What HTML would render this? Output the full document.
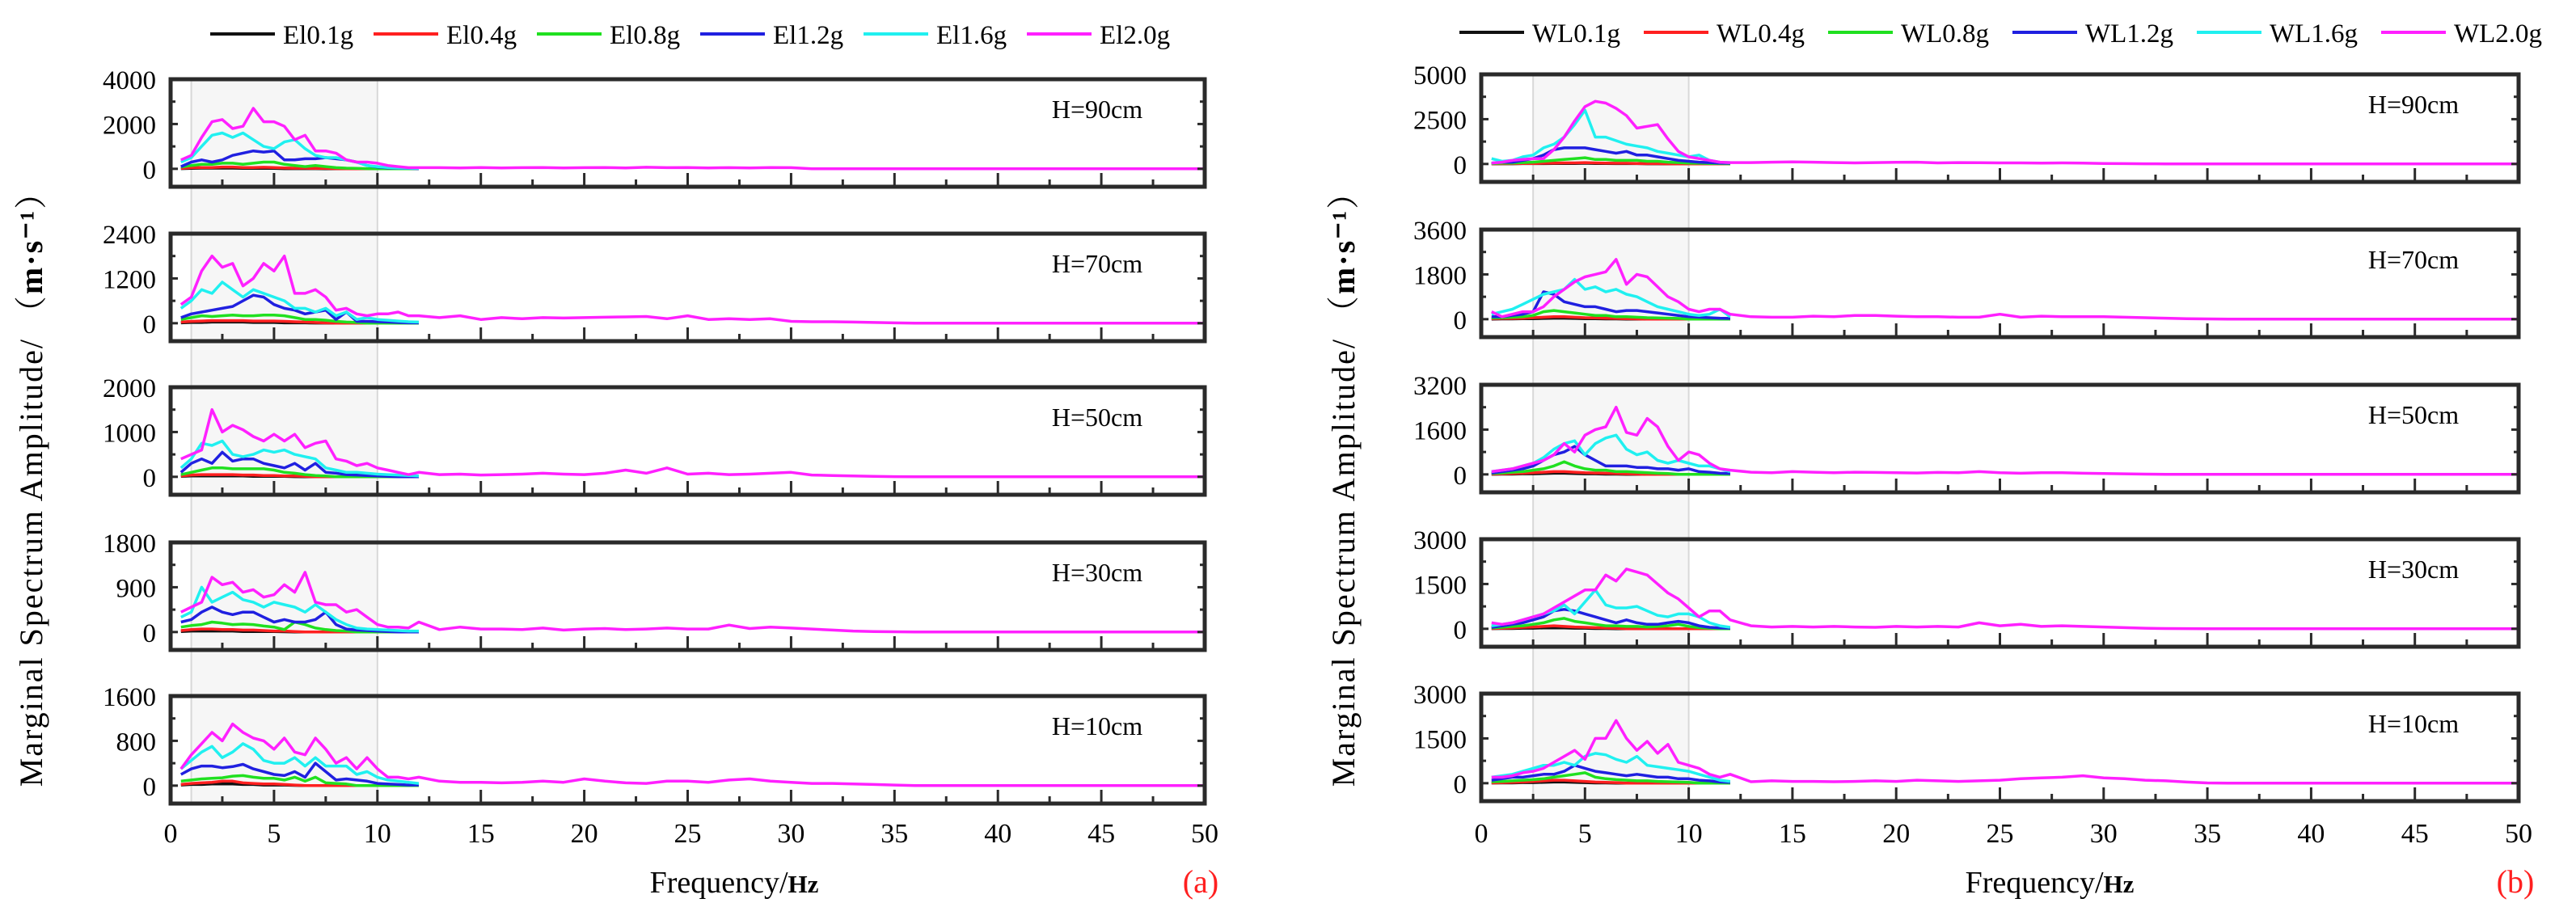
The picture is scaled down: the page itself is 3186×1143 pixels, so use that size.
<!DOCTYPE html>
<html><head><meta charset="utf-8">
<style>
html,body{margin:0;padding:0;background:#fff;}
svg{display:block;font-family:"Liberation Serif","Noto Serif CJK SC",serif;}
</style></head>
<body>
<svg id="chart" width="3186" height="1143" viewBox="0 0 3186 1143" xmlns="http://www.w3.org/2000/svg"></svg>
<script>
// ---- data ----
const freqs = [0.5,1,1.5,2,2.5,3,3.5,4,4.5,5,5.5,6,6.5,7,7.5,8,8.5,9,9.5,10,10.5,11,11.5,12,
  13,14,15,16,17,18,19,20,21,22,23,24,25,26,27,28,29,30,31,32,33,34,35,36,50];
const xTicks = [0,5,10,15,20,25,30,35,40,45,50];
const seriesColors = ["#111111","#ff2020","#20e020","#2020e0","#20f0f0","#ff20ff"];
const leftNames = ["El0.1g","El0.4g","El0.8g","El1.2g","El1.6g","El2.0g"];
const rightNames = ["WL0.1g","WL0.4g","WL0.8g","WL1.2g","WL1.6g","WL2.0g"];
const heights = ["H=90cm","H=70cm","H=50cm","H=30cm","H=10cm"];
const leftMax = [4000,2400,2000,1800,1600];
const rightMax = [5000,3600,3200,3000,3000];

// left (a) series per panel: [black, red, green, blue, cyan, magenta]
const L90 = [
 [10,20,30,30,30,30,20,20,20,20,10,10,10,10,5,5,0,0,0,0,0,0,0,0],
 [20,50,60,60,80,80,60,60,70,60,40,30,30,20,20,10,0,0,0,0,0,0,0,0],
 [80,150,200,200,250,250,200,250,300,300,200,150,100,150,100,50,30,20,10,0,0,0,0,0],
 [100,300,400,300,400,600,700,800,750,800,400,400,450,450,500,450,400,300,150,80,40,30,20,10],
 [300,500,1000,1500,1600,1400,1600,1300,1000,900,1200,1300,900,600,500,500,400,300,150,100,60,40,30,20],
 [400,600,1400,2100,2200,1800,1900,2700,2100,2100,1900,1300,1500,800,800,700,400,300,300,250,150,100,50,50,
  50,40,60,40,50,60,40,50,60,40,70,50,60,40,50,40,60,50,0,0,0,0,0,0,0]];
const L70 = [
 [10,20,20,30,30,30,30,20,20,20,10,10,10,5,5,0,0,0,0,0,0,0,0,0],
 [30,50,60,70,70,70,70,60,60,60,50,40,30,20,10,0,0,0,0,0,0,0,0,0],
 [100,150,200,180,200,220,200,200,220,220,200,150,100,100,80,50,30,20,0,0,0,0,0,0],
 [150,250,300,350,400,450,600,750,700,500,400,350,250,300,350,100,300,50,50,40,30,20,10,10],
 [400,600,900,800,1100,900,700,900,800,700,600,400,400,300,400,200,300,100,150,100,80,60,40,30],
 [500,700,1400,1800,1500,1600,1000,1200,1600,1400,1800,800,800,900,700,350,400,250,200,250,250,300,200,200,
  150,200,100,150,120,150,140,150,160,170,180,120,200,100,120,100,120,50,40,40,30,20,10,0,0]];
const L50 = [
 [10,20,20,20,20,20,20,10,10,10,10,5,0,0,0,0,0,0,0,0,0,0,0,0],
 [20,40,50,50,50,50,40,40,30,30,20,20,10,0,0,0,0,0,0,0,0,0,0,0],
 [50,100,150,200,200,180,180,180,180,150,100,80,50,30,20,0,0,0,0,0,0,0,0,0],
 [100,300,400,300,550,350,400,400,300,250,200,300,150,300,100,80,50,40,30,20,10,0,0,0],
 [200,400,750,700,800,500,450,500,600,550,600,500,450,400,200,150,100,100,80,60,50,40,30,20],
 [400,500,600,1500,1000,1150,1050,900,800,950,800,950,650,750,800,400,350,250,300,200,150,100,50,100,
  50,60,40,50,60,80,60,50,80,150,80,200,60,80,50,60,80,100,40,30,20,10,5,0,0]];
const L30 = [
 [10,20,20,20,20,20,10,10,10,10,5,0,0,0,0,0,0,0,0,0,0,0,0,0],
 [30,50,60,60,50,50,40,40,30,20,20,10,0,0,0,0,0,0,0,0,0,0,0,0],
 [100,130,150,200,180,150,160,150,120,100,50,200,150,80,50,30,20,0,0,0,0,0,0,0],
 [200,250,400,500,400,350,400,400,300,200,250,200,200,250,400,150,60,40,30,20,10,0,0,0],
 [300,400,900,600,700,800,650,600,500,600,550,500,400,550,400,250,150,80,60,50,40,30,20,20],
 [400,500,600,1100,950,1000,800,850,700,750,950,800,1200,600,550,550,400,450,300,150,100,100,80,200,
  50,100,60,60,50,80,40,60,70,50,60,80,60,60,140,70,100,80,60,40,20,10,5,0,0]];
const L10 = [
 [10,20,20,30,30,30,20,20,10,10,10,5,0,0,0,0,0,0,0,0,0,0,0,0],
 [20,40,50,60,80,80,50,40,30,30,20,10,0,0,0,0,0,0,0,0,0,0,0,0],
 [80,100,120,130,140,170,180,150,130,130,100,150,80,150,50,40,30,0,0,0,0,0,0,0],
 [200,300,350,350,320,340,380,300,250,200,180,250,150,400,250,100,120,100,80,40,30,20,10,10],
 [300,450,600,700,500,600,750,650,450,400,400,500,350,500,350,350,350,200,250,150,100,80,60,40],
 [300,550,750,950,800,1100,950,850,800,650,850,600,550,850,650,400,500,300,500,300,150,150,120,150,
  80,60,60,50,60,80,60,120,80,50,40,80,80,60,100,120,80,60,40,40,30,20,10,0,0]];
// right (b)
const R90 = [
 [5,10,10,20,20,20,30,30,30,40,30,30,20,20,20,10,10,0,0,0,0,0,0,0],
 [10,20,20,30,30,40,50,60,60,80,60,50,40,40,30,20,20,10,0,0,0,0,0,0],
 [20,50,50,80,100,150,200,250,300,350,250,250,200,200,200,150,150,100,80,50,40,30,20,10],
 [50,100,100,200,300,500,800,900,900,900,800,700,600,700,500,500,400,300,200,150,100,80,50,40],
 [300,150,200,400,500,900,1100,1500,2200,3000,1500,1500,1300,1100,1000,900,700,600,500,400,500,200,100,80],
 [50,100,200,250,300,300,800,1500,2400,3200,3500,3400,3100,2700,2000,2100,2200,1400,700,400,300,200,100,80,
  80,100,120,100,80,60,80,90,100,60,80,70,60,60,50,60,50,30,20,10,5,0,0,0,0]];
const R70 = [
 [5,10,10,20,20,30,40,40,30,20,20,10,10,0,0,0,0,0,0,0,0,0,0,0],
 [20,30,30,40,60,80,100,100,80,60,50,40,30,20,10,0,0,0,0,0,0,0,0,0],
 [50,60,80,100,150,300,350,300,250,200,150,150,100,100,80,60,50,40,30,0,0,0,0,0],
 [100,100,150,200,300,1100,1000,700,600,500,500,400,300,350,350,300,250,200,150,100,80,60,40,30],
 [200,300,400,600,800,1000,1100,1200,1600,1200,1300,1100,1200,1000,900,700,500,400,300,200,150,200,400,100],
 [300,100,200,300,300,500,900,1200,1500,1700,1800,1900,2400,1400,1800,1700,1300,900,700,400,300,400,400,200,
  100,80,80,120,100,150,150,120,100,100,80,80,200,80,120,100,100,100,80,60,40,20,10,0,0]];
const R50 = [
 [5,10,10,20,20,30,40,40,30,20,20,10,10,0,0,0,0,0,0,0,0,0,0,0],
 [10,20,30,40,60,80,100,100,80,60,50,40,30,20,10,0,0,0,0,0,0,0,0,0],
 [30,50,80,100,150,200,300,450,300,200,150,150,100,100,80,60,40,30,0,0,0,0,0,0],
 [50,100,150,200,300,500,700,800,1000,700,500,300,300,300,250,250,200,200,150,200,100,80,40,30],
 [100,150,200,300,400,600,900,1100,1200,700,1100,1300,1400,900,700,800,500,400,500,400,300,300,200,100],
 [100,150,200,300,400,500,700,1100,800,1400,1600,1700,2400,1500,1400,2000,1700,1000,500,800,700,400,200,150,
  80,60,100,80,60,80,70,60,50,70,60,100,60,40,60,60,40,30,20,10,5,0,0,0,0]];
const R30 = [
 [5,10,10,20,20,30,30,30,20,20,10,10,0,0,0,0,0,0,0,0,0,0,0,0],
 [10,20,30,50,60,80,100,80,60,50,40,30,20,0,0,0,0,0,0,0,0,0,0,0],
 [30,50,80,100,150,200,300,350,250,200,150,100,100,80,80,60,80,100,150,80,40,20,0,0],
 [50,100,150,200,300,400,600,650,600,500,400,300,200,300,200,150,150,200,250,200,100,50,30,20],
 [100,150,200,300,400,500,600,800,500,900,1300,800,700,700,750,600,450,400,500,500,400,200,100,50],
 [200,150,200,300,400,500,700,900,1100,1300,1300,1800,1600,2000,1900,1800,1500,1200,1000,700,400,600,600,300,
  100,60,80,60,80,60,50,80,60,80,60,200,100,150,80,100,80,60,40,20,10,5,0,0,0]];
const R10 = [
 [5,10,10,20,20,30,40,40,30,20,10,10,0,0,0,0,0,0,0,0,0,0,0,0],
 [10,20,30,40,60,80,100,100,80,60,40,30,20,0,0,0,0,0,0,0,0,0,0,0],
 [50,60,80,100,120,150,200,250,300,350,200,150,120,100,80,80,60,50,40,30,0,0,0,0],
 [100,150,200,200,250,300,300,400,600,500,400,350,300,250,300,250,200,200,150,150,100,80,40,30],
 [200,250,300,400,500,600,600,700,600,900,1000,950,800,700,900,600,550,500,450,400,300,200,100,60],
 [200,200,250,350,400,500,700,900,1100,800,1500,1500,2100,1500,1100,1400,1000,1300,700,600,500,300,200,300,
  50,80,60,60,50,60,80,60,100,80,60,80,100,150,180,200,250,180,150,100,80,40,10,0,0]];
const leftData = [L90,L70,L50,L30,L10];
const rightData = [R90,R70,R50,R30,R10];

// ---- drawing ----
const svg = document.getElementById('chart');
const NS = "http://www.w3.org/2000/svg";
function mk(tag, attrs, parent){
  const e = document.createElementNS(NS, tag);
  for (const k in attrs) e.setAttribute(k, attrs[k]);
  (parent||svg).appendChild(e);
  return e;
}

function drawFigure(cfg){
  const g = mk('g', {});
  
  
  const xs = v => cfg.x0 + (v/50)*(cfg.x1-cfg.x0);
  const sh = mk('rect', {x: xs(cfg.shade[0]), y: cfg.tops[0], width: xs(cfg.shade[1])-xs(cfg.shade[0]),
    height: cfg.tops[4]+cfg.ph-cfg.tops[0], fill:'#f6f6f6', stroke:'#d8d8d8', 'stroke-width':2}, g);
  
  

  for (let p=0;p<5;p++){
    const top = cfg.tops[p], ph = cfg.ph, ymax = cfg.maxes[p], ymin = -0.2*ymax;
    const ys = v => top + ph - (v-ymin)/(ymax-ymin)*ph;
    const pg = mk('g', {}, g);
    
    
    cfg.data[p].forEach((vals, si) => {
      const pts = vals.map((v,i) => xs(freqs[i]).toFixed(1) + ',' + ys(v).toFixed(1)).join(' ');
      const pl = mk('polyline', {points: pts, fill:'none', stroke: seriesColors[si], 'stroke-width':3.5, 'stroke-linejoin':'round'}, pg);
      
      
    });
    const fr = mk('rect', {x: cfg.x0, y: top, width: cfg.x1-cfg.x0, height: ph, fill:'none', stroke:'#2a2a2a', 'stroke-width':5}, pg);
    
    
    for (let t=0;t<=50;t+=2.5){
      const major = (t%5===0);
      const tk = mk('line', {x1: xs(t), x2: xs(t), y1: top+ph, y2: top+ph-(major?17:9), stroke:'#2a2a2a', 'stroke-width':3}, pg);
      
      
    }
    const yTickVals = [0, ymax/4, ymax/2, 3*ymax/4, ymax];
    yTickVals.forEach((v,i) => {
      const len = (i%2===0)?9:6;
      const a = mk('line', {x1: cfg.x0, x2: cfg.x0+len, y1: ys(v), y2: ys(v), stroke:'#2a2a2a','stroke-width':3}, pg);
      
      
      const b = mk('line', {x1: cfg.x1, x2: cfg.x1-len, y1: ys(v), y2: ys(v), stroke:'#2a2a2a','stroke-width':3}, pg);
      
      
      if (i%2===0){
        const tl = mk('text', {x: cfg.x0-18, y: ys(v)+12, 'text-anchor':'end', 'font-size':33}, pg);
        tl.textContent = String(v);
        
        
      }
    });
    const hl = mk('text', {x: cfg.hx, y: top+48, 'text-anchor':'middle', 'font-size':32}, pg);
    hl.textContent = heights[p];
    
    
  }
  xTicks.forEach(t => {
    const tl = mk('text', {x: xs(t), y: 1042, 'text-anchor':'middle', 'font-size':34}, g);
    tl.textContent = String(t);
    
    
  });
  const xt = mk('text', {x: cfg.xtx, y: 1104, 'text-anchor':'middle', 'font-size':38}, g);
  
  
  xt.innerHTML = 'Frequency/<tspan font-weight="bold" font-size="31">Hz</tspan>';
  const lab = mk('text', {x: cfg.labx, y: 1104, 'text-anchor':'middle', 'font-size':40, fill:'#ff2020'}, g);
  
  
  lab.textContent = cfg.lab;
  const yt = mk('text', {x: 0, y: 0, 'text-anchor':'middle', 'font-size':40, 'letter-spacing':2,
    transform: 'translate(' + cfg.ytx + ',595) rotate(-90)'}, g);
  
  
  yt.innerHTML = 'Marginal Spectrum Amplitude/ （<tspan font-weight="bold">m·s⁻¹</tspan>）';
  cfg.names.forEach((n, i) => {
    const lx = cfg.legX + i*cfg.legDx;
    const lg = mk('g', {}, g);
    
    
    mk('line', {x1: lx, x2: lx+80, y1: cfg.legY, y2: cfg.legY, stroke: seriesColors[i], 'stroke-width':4}, lg);
    const t = mk('text', {x: lx+90, y: cfg.legY+12, 'font-size':33}, lg);
    t.textContent = n;
  });
}

drawFigure({id:'figure-a', x0:211, x1:1490, shade:[1,10], tops:[98,289,479,671,861], ph:133,
  maxes:leftMax, data:leftData, names:leftNames, hx:1357, xtx:908, labx:1485, lab:'(a)',
  ytx:52, legX:260, legDx:202, legY:42});
drawFigure({id:'figure-b', x0:1832, x1:3115, shade:[2.5,10], tops:[92,284,476,667,858], ph:133,
  maxes:rightMax, data:rightData, names:rightNames, hx:2985, xtx:2535, labx:3111, lab:'(b)',
  ytx:1675, legX:1805, legDx:228, legY:40});
</script>
</body></html>
